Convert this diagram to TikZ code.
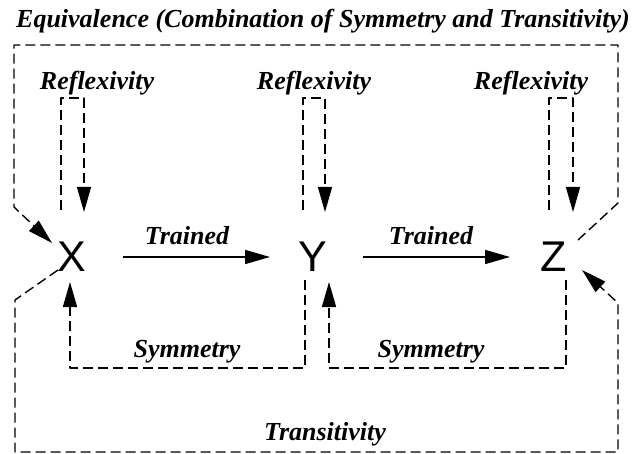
\documentclass[tikz,border=0pt]{standalone}
\usepackage{fontspec}
\setmainfont{Liberation Serif}
\setsansfont{Liberation Sans}
\usetikzlibrary{arrows.meta}
\tikzset{
  lbl/.style={font=\fontsize{26}{30}\selectfont\bfseries\itshape, inner sep=0pt, anchor=base},
  var/.style={font=\fontsize{43}{46}\selectfont\sffamily, inner sep=0pt},
  dline/.style={line width=1.4pt, dash pattern=on 10pt off 5pt, line join=round},
  tip/.style={-{Triangle[length=25pt,width=14pt]}},
  solidarr/.style={line width=1.6pt, tip},
}
\begin{document}
\begin{tikzpicture}[x=1pt,y=-1pt]
\useasboundingbox (0,0) rectangle (642,454);
% title
\node[lbl] (title) at (323,28) {Equivalence (Combination of Symmetry and Transitivity)};
% variables
\node[var] (X) at (72,257) {X};
\node[var] (Y) at (313,257) {Y};
\node[var] (Z) at (554,257) {Z};
% labels
\node[lbl] (r1) at (97,90) {Reflexivity};
\node[lbl] (r2) at (314,90) {Reflexivity};
\node[lbl] (r3) at (531,90) {Reflexivity};
\node[lbl] (t1) at (187,245) {Trained};
\node[lbl] (t2) at (431,245) {Trained};
\node[lbl] (s1) at (187,357) {Symmetry};
\node[lbl] (s2) at (431,357) {Symmetry};
\node[lbl] (tr) at (325,440) {Transitivity};
% anchor coordinates
\coordinate (Xin) at (52,243);
\coordinate (Xout) at (58,270);
\coordinate (Zout) at (578,240);
\coordinate (Zin) at (582,270);
\coordinate (Xr1) at (61,210); \coordinate (Xr2) at (84,212);
\coordinate (Yr1) at (303,210); \coordinate (Yr2) at (325,212);
\coordinate (Zr1) at (549,210); \coordinate (Zr2) at (573,212);
\coordinate (Xt) at (123,257); \coordinate (Yt) at (270,257);
\coordinate (Yt2) at (363,257); \coordinate (Zt) at (510,257);
\coordinate (Ys) at (305,280); \coordinate (Xs) at (70,282);
\coordinate (Zs) at (566,280); \coordinate (Ys2) at (329,282);
% equivalence
\draw[dline, tip] (Zout) -- (618,203) -- (618,45) -- (14,45) -- (14,207) -- (Xin);
% transitivity
\draw[dline, tip] (Xout) -- (15,300) -- (15,452) -- (618,452) -- (618,303) -- (Zin);
% reflexivity
\draw[dline, tip] (Xr1) -- (61,98) -- (84,98) -- (Xr2);
\draw[dline, tip] (Yr1) -- (303,98) -- (325,98) -- (Yr2);
\draw[dline, tip] (Zr1) -- (549,98) -- (573,98) -- (Zr2);
% trained
\draw[solidarr] (Xt) -- (Yt);
\draw[solidarr] (Yt2) -- (Zt);
% symmetry
\draw[dline, tip] (Ys) -- (305,368) -- (70,368) -- (Xs);
\draw[dline, tip] (Zs) -- (566,368) -- (329,368) -- (Ys2);
\end{tikzpicture}
\end{document}
